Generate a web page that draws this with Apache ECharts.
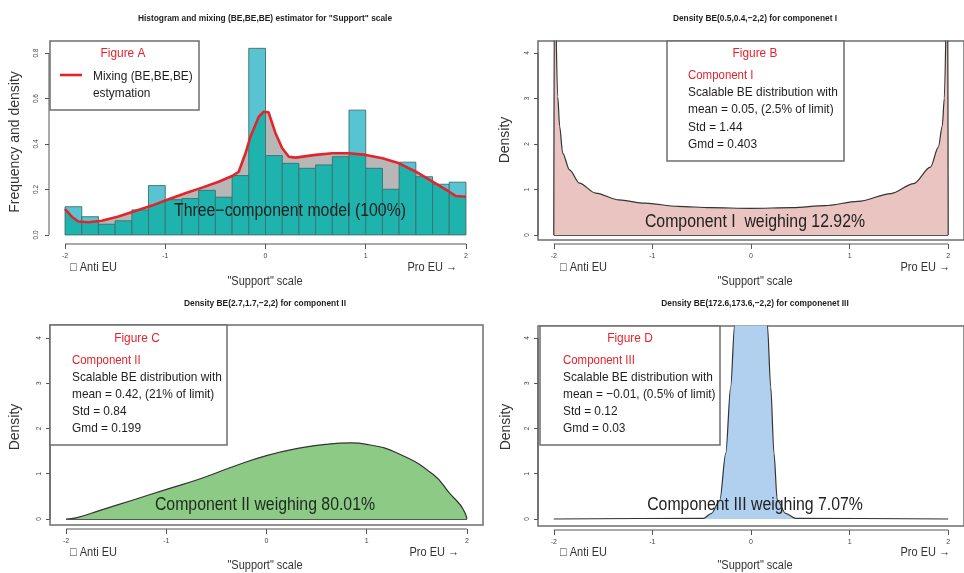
<!DOCTYPE html>
<html>
<head>
<meta charset="utf-8">
<script src="https://cdn.jsdelivr.net/npm/echarts@6/dist/echarts.min.js"></script>
<style>
  html, body { margin: 0; padding: 0; background: #fff; }
  #main { width: 964px; height: 573px; }
</style>
</head>
<body>
<div id="main"></div>
<script>
// ---- data ----
const xTicks = [-2, -1, 0, 1, 2];
const yTicksA = [0, 0.2, 0.4, 0.6, 0.8];
const yTicks = [0, 1, 2, 3, 4];

// Figure A: histogram, 24 bins on [-2, 2]
const histEdges = [-2, -1.833, -1.667, -1.5, -1.333, -1.167, -1, -0.833, -0.667, -0.5, -0.333, -0.167,
  0, 0.167, 0.333, 0.5, 0.667, 0.833, 1, 1.167, 1.333, 1.5, 1.667, 1.833, 2];
const histValues = [0.124, 0.080, 0.047, 0.062, 0.110, 0.217, 0.155, 0.160, 0.196, 0.166, 0.261, 0.821,
  0.349, 0.315, 0.293, 0.308, 0.344, 0.549, 0.293, 0.201, 0.320, 0.256, 0.223, 0.232];

// mixing (BE,BE,BE) density
const mixX = [-2, -1.933, -1.867, -1.767, -1.633, -1.467, -1.3, -1.133, -0.967, -0.8, -0.633, -0.467,
  -0.333, -0.267, -0.2, -0.15, -0.067, -0.017, 0.03, 0.1, 0.167, 0.233, 0.3, 0.5, 0.667, 0.833, 1.0,
  1.167, 1.333, 1.5, 1.667, 1.833, 1.9, 2.0];
const mixY = [0.114, 0.080, 0.059, 0.056, 0.062, 0.081, 0.105, 0.129, 0.157, 0.183, 0.208, 0.234,
  0.259, 0.278, 0.359, 0.432, 0.520, 0.542, 0.540, 0.447, 0.381, 0.344, 0.340, 0.352, 0.359, 0.359, 0.352,
  0.337, 0.315, 0.278, 0.234, 0.190, 0.171, 0.168];

// Figure B: component I
const comp1X = [-2, -1.993, -1.96, -1.94, -1.91, -1.84, -1.74, -1.575, -1.34, -1.076, -0.74, -0.41, 0,
  0.42, 0.75, 1.085, 1.42, 1.65, 1.82, 1.90, 1.94, 1.96, 1.993, 2];
const comp1Y = [0, 6, 3.04, 2.38, 1.80, 1.43, 1.14, 0.92, 0.77, 0.70, 0.63, 0.60, 0.586,
  0.60, 0.645, 0.74, 0.91, 1.13, 1.49, 1.93, 2.4, 3.0, 6, 0];

// Figure C: component II
const comp2X = [-2, -1.89, -1.66, -1.33, -0.99, -0.66, -0.33, 0, 0.34, 0.59, 0.84, 1.0, 1.33, 1.67,
  1.83, 1.93, 1.97, 1.99, 2];
const comp2Y = [0, 0.03, 0.19, 0.42, 0.66, 0.89, 1.16, 1.40, 1.57, 1.65, 1.68, 1.65, 1.43, 0.97,
  0.56, 0.32, 0.18, 0.08, 0];

// Figure D: component III
const comp3X = [-2, -0.48, -0.40, -0.316, -0.256, -0.206, -0.166, -0.1, 0, 0.1, 0.166, 0.2, 0.233,
  0.266, 0.35, 0.45, 2];
const comp3Y = [0, 0.015, 0.126, 0.42, 1.45, 2.92, 4.29, 6, 7, 6, 4.29, 2.92, 1.45,
  0.42, 0.126, 0.015, 0];

// ---- styling ----
const family = "'Liberation Sans', 'DejaVu Sans', Arial, sans-serif";
const ink = '#1e1e1e';
const red = '#e3242b';
const frame = '#6e6e6e';
const cyan = '#58c4d2';
const teal = '#1fb3ad';
const grey = '#b7b7b7';
const squeeze = 0.88;

const pairs = (xs, ys) => xs.map((x, i) => [x, ys[i]]);

const chart = echarts.init(document.getElementById('main'));

const grids = [
  { left: 49, top: 44, width: 433, height: 200, show: false },
  { left: 538, top: 41, width: 433, height: 199, show: true, borderColor: frame, borderWidth: 1.5 },
  { left: 50, top: 325, width: 433, height: 200, show: true, borderColor: frame, borderWidth: 1.5 },
  { left: 538, top: 326, width: 433, height: 200, show: true, borderColor: frame, borderWidth: 1.5 }
];
const yRanges = [[-0.04, 0.84], [-0.11, 4.263], [-0.133, 4.287], [-0.155, 4.265]];
const xOffsets = [0, 4, 4, 4];

const xAxes = grids.map((g, i) => ({
  type: 'value', gridIndex: i, min: -2.16, max: 2.16, offset: xOffsets[i],
  axisLine: { show: false, onZero: false },
  axisTick: { show: true, length: 5, customValues: xTicks, lineStyle: { color: '#555' } },
  axisLabel: { customValues: xTicks, fontSize: 7, color: '#444', margin: 9, fontFamily: family },
  splitLine: { show: false }
}));

const yAxes = grids.map((g, i) => ({
  type: 'value', gridIndex: i, min: yRanges[i][0], max: yRanges[i][1],
  axisLine: { show: false, onZero: false },
  axisTick: { show: true, length: 4, customValues: i === 0 ? yTicksA : yTicks, lineStyle: { color: '#555' } },
  axisLabel: {
    customValues: i === 0 ? yTicksA : yTicks, rotate: 90, fontSize: 6.5, color: '#444',
    margin: i === 0 ? 9 : 7, fontFamily: family,
    formatter: v => (i === 0 ? v.toFixed(1) : String(v))
  },
  splitLine: { show: false }
}));

function renderHistBar(params, api) {
  const x0 = api.value(0), x1 = api.value(1), h = api.value(2);
  const p0 = api.coord([x0, 0]);
  const p1 = api.coord([x1, h]);
  const rect = { x: p0[0], y: p1[1], width: p1[0] - p0[0], height: p0[1] - p1[1] };
  const under = mixX.map((x, k) => api.coord([x, mixY[k]]));
  under.push(api.coord([mixX[mixX.length - 1], 0]), api.coord([mixX[0], 0]));
  return {
    type: 'group',
    children: [
      { type: 'rect', shape: rect, style: { fill: cyan } },
      { type: 'polygon', shape: { points: under }, style: { fill: teal },
        clipPath: { type: 'rect', shape: rect } },
      { type: 'rect', shape: rect, style: { fill: 'none', stroke: '#3c6e70', lineWidth: 0.9 } }
    ]
  };
}

const densityLine = (idx, xs, ys, fill, baseline, monotone) => ({
  type: 'line', xAxisIndex: idx, yAxisIndex: idx, data: pairs(xs, ys),
  symbol: 'none', smooth: monotone ? 0.3 : 0.5, smoothMonotone: monotone ? 'x' : undefined,
  clip: true, z: 2,
  lineStyle: { color: '#333', width: 1.2 },
  areaStyle: { color: fill, opacity: 1 },
  markLine: baseline ? {
    silent: true, symbol: 'none', label: { show: false },
    lineStyle: { color: '#555', width: 1, type: 'solid' },
    data: [[{ coord: [xs[0], 0] }, { coord: [xs[xs.length - 1], 0] }]]
  } : undefined
});

const series = [
  {
    type: 'line', xAxisIndex: 0, yAxisIndex: 0, data: pairs(mixX, mixY),
    symbol: 'none', z: 1, lineStyle: { width: 0 }, areaStyle: { color: grey, opacity: 1 }
  },
  {
    type: 'custom', xAxisIndex: 0, yAxisIndex: 0, z: 2, clip: false,
    data: histValues.map((v, i) => [histEdges[i], histEdges[i + 1], v]),
    encode: { x: [0, 1], y: 2 },
    renderItem: renderHistBar
  },
  {
    type: 'line', xAxisIndex: 0, yAxisIndex: 0, data: pairs(mixX, mixY),
    symbol: 'none', z: 3, lineStyle: { color: red, width: 2.6 }
  },
  densityLine(1, comp1X, comp1Y, '#e9c4c1', true, true),
  densityLine(2, comp2X, comp2Y, '#8dca86', true, false),
  densityLine(3, comp3X, comp3Y, '#b1d0f0', false, true)
];

chart.setOption({
  animation: false,
  backgroundColor: '#fff',
  grid: grids,
  xAxis: xAxes,
  yAxis: yAxes,
  series: series
});

// ---- annotations ----
function txt(x, y, text, size, opt = {}) {
  const align = opt.align || 'left';
  return {
    type: 'text', x, y, z: 100, rotation: opt.rotation || 0,
    scaleX: opt.rotation ? 1 : (opt.sx || squeeze),
    style: {
      text, fill: opt.color || ink,
      font: (opt.bold ? 'bold ' : '') + size + 'px ' + family,
      textAlign: align, textVerticalAlign: 'middle', align: align, verticalAlign: 'middle'
    }
  };
}
const box = (x, y, w, h) => ({
  type: 'rect', z: 50, shape: { x, y, width: w, height: h },
  style: { fill: '#fff', stroke: frame, lineWidth: 1.5 }
});

const graphics = [
  // titles
  txt(265, 18, 'Histogram and mixing (BE,BE,BE) estimator for "Support" scale', 9.5, { bold: true, align: 'center' }),
  txt(755, 18, 'Density BE(0.5,0.4,\u22122,2) for componenet I', 9.5, { bold: true, align: 'center' }),
  txt(265, 303, 'Density BE(2.7,1.7,\u22122,2) for component II', 9.5, { bold: true, align: 'center' }),
  txt(755, 303, 'Density BE(172.6,173.6,\u22122,2) for componenet III', 9.5, { bold: true, align: 'center' }),

  // y axis titles
  txt(15, 142, 'Frequency and density', 14, { align: 'center', rotation: Math.PI / 2, color: '#333' }),
  txt(505, 140, 'Density', 14, { align: 'center', rotation: Math.PI / 2, color: '#333' }),
  txt(15, 427, 'Density', 14, { align: 'center', rotation: Math.PI / 2, color: '#333' }),
  txt(506, 427, 'Density', 14, { align: 'center', rotation: Math.PI / 2, color: '#333' }),

  // legends
  box(50, 41, 149, 69),
  txt(123, 53, 'Figure A', 13.5, { align: 'center', color: red }),
  { type: 'line', z: 60, shape: { x1: 60, y1: 75, x2: 82, y2: 75 }, style: { stroke: red, lineWidth: 2.6 } },
  txt(93, 76, 'Mixing (BE,BE,BE)', 13.5),
  txt(93, 93, 'estymation', 13.5),

  box(667, 41, 177, 120),
  txt(755, 53, 'Figure B', 13.5, { align: 'center', color: red }),
  txt(688, 75, 'Component I', 13, { color: red }),
  txt(688, 92, 'Scalable BE distribution with', 13.5),
  txt(688, 109, 'mean = 0.05, (2.5% of limit)', 13.5),
  txt(688, 127, 'Std = 1.44', 13.5),
  txt(688, 144, 'Gmd = 0.403', 13.5),

  box(50, 325, 177, 120),
  txt(137, 338, 'Figure C', 13.5, { align: 'center', color: red }),
  txt(72, 360, 'Component II', 13, { color: red }),
  txt(72, 377, 'Scalable BE distribution with', 13.5),
  txt(72, 394, 'mean = 0.42, (21% of limit)', 13.5),
  txt(72, 411, 'Std = 0.84', 13.5),
  txt(72, 428, 'Gmd = 0.199', 13.5),

  box(540, 326, 180, 119),
  txt(630, 338, 'Figure D', 13.5, { align: 'center', color: red }),
  txt(563, 360, 'Component III', 13, { color: red }),
  txt(563, 377, 'Scalable BE distribution with', 13.5),
  txt(563, 394, 'mean = \u22120.01, (0.5% of limit)', 13.5),
  txt(563, 411, 'Std = 0.12', 13.5),
  txt(563, 428, 'Gmd = 0.03', 13.5),

  // big in-plot labels
  txt(290, 211, 'Three\u2212component model (100%)', 18, { align: 'center', color: '#222' }),
  txt(755, 222, 'Component I  weighing 12.92%', 18, { align: 'center', color: '#222' }),
  txt(265, 505, 'Component II weighing 80.01%', 18, { align: 'center', color: '#1d2a1d' }),
  txt(755, 505, 'Component III weighing 7.07%', 18, { align: 'center', color: '#222' })
];

// bottom texts under each panel
[[70, 457, 265, 268, 282], [560, 950, 755, 268, 282], [70, 459, 265, 553, 566], [560, 950, 755, 553, 566]]
  .forEach(([lx, rx, cx, y1, y2]) => {
    graphics.push(
      txt(lx, y1, '\u25A1 Anti EU', 12.5, { color: '#333' }),
      txt(rx, y1, 'Pro EU \u2192', 12.5, { align: 'right', color: '#333' }),
      txt(cx, y2, '"Support" scale', 12.5, { align: 'center', color: '#333' })
    );
  });

// R-style axis lines spanning only the tick range
grids.forEach((g, i) => {
  const yTop = i === 0 ? 0.8 : 4;
  const left = chart.convertToPixel({ gridIndex: i }, [-2.16, 0]);
  const a = chart.convertToPixel({ gridIndex: i }, [-2, yRanges[i][0]]);
  const b = chart.convertToPixel({ gridIndex: i }, [2, yRanges[i][0]]);
  const y0 = chart.convertToPixel({ gridIndex: i }, [-2.16, 0]);
  const y1 = chart.convertToPixel({ gridIndex: i }, [-2.16, yTop]);
  const ay = a[1] + xOffsets[i];
  graphics.push(
    { type: 'line', z: 20, shape: { x1: a[0], y1: ay, x2: b[0], y2: ay }, style: { stroke: '#555', lineWidth: 1 } },
    { type: 'line', z: 20, shape: { x1: left[0], y1: y0[1], x2: left[0], y2: y1[1] }, style: { stroke: '#555', lineWidth: 1 } }
  );
});

chart.setOption({ graphic: { elements: graphics } });
</script>
</body>
</html>
